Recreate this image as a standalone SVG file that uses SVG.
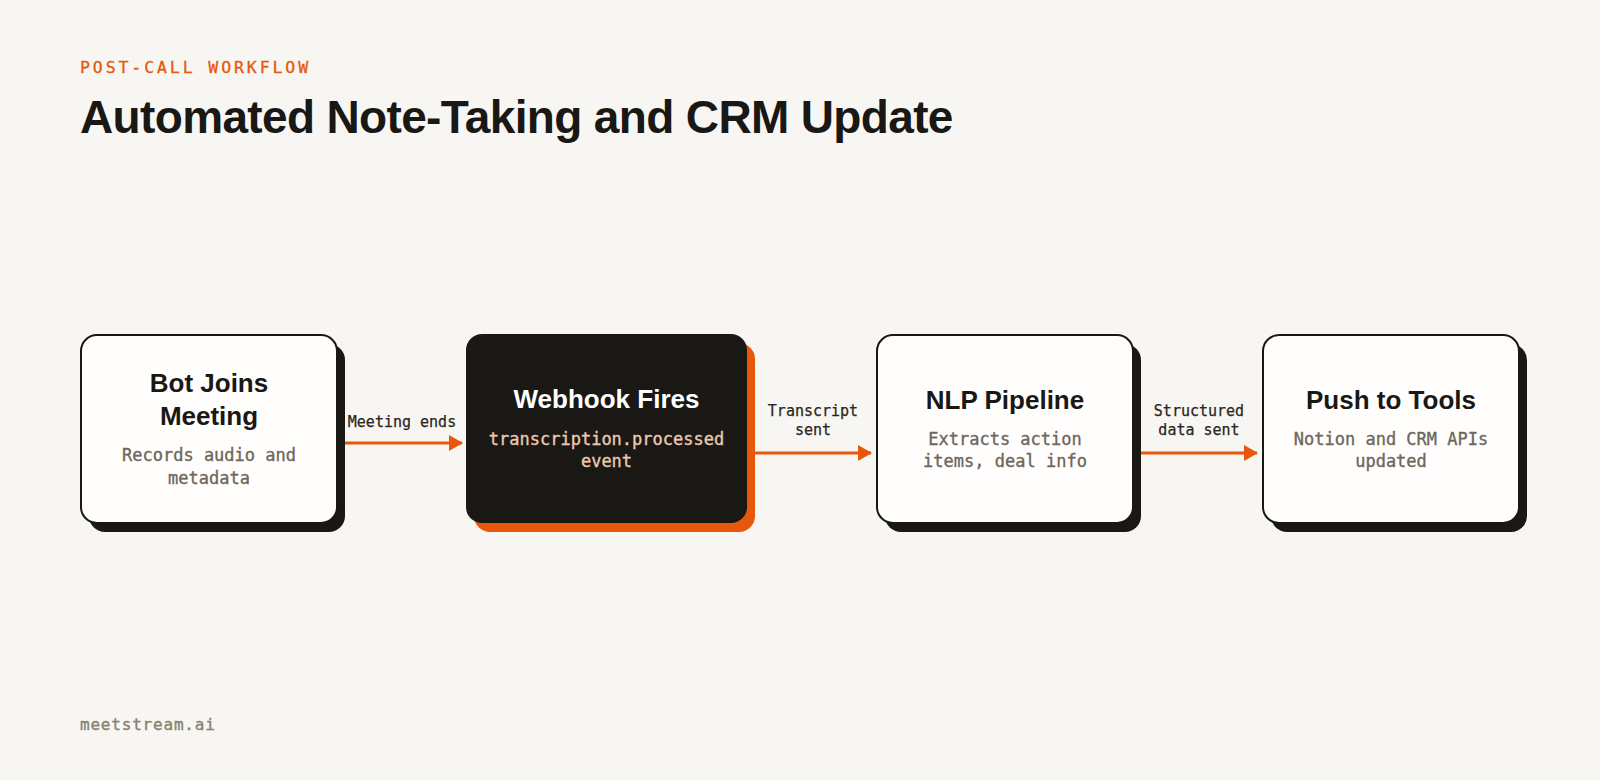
<svg xmlns="http://www.w3.org/2000/svg" width="1600" height="780" viewBox="0 0 1600 780">
<defs>
<style>
.bg{fill:#f7f6f3}
.eyebrow{font-family:"DejaVu Sans Mono","Liberation Mono",monospace;font-size:16.5px;letter-spacing:2.9px;fill:#e8580c;stroke:#e8580c;stroke-width:0.3px}
.h1{font-family:"Liberation Sans",Arial,sans-serif;font-weight:700;font-size:46px;letter-spacing:-0.65px;fill:#1a1814}
.title{font-family:"Liberation Sans",Arial,sans-serif;font-weight:700;font-size:26px;text-anchor:middle;fill:#1a1814}
.title.inv{fill:#ffffff}
.sub{font-family:"DejaVu Sans Mono","Liberation Mono",monospace;font-size:17px;text-anchor:middle;fill:#6e665c;stroke:#6e665c;stroke-width:0.35px}
.sub.inv{fill:#ecc9ae;stroke:#ecc9ae}
.lbl{font-family:"DejaVu Sans Mono","Liberation Mono",monospace;font-size:15px;text-anchor:middle;fill:#2a2620;stroke:#2a2620;stroke-width:0.25px}
.foot{font-family:"DejaVu Sans Mono","Liberation Mono",monospace;font-size:16px;letter-spacing:0.8px;fill:#8a7f72;stroke:#8a7f72;stroke-width:0.35px}
.box{fill:#fffefc;stroke:#1a1814;stroke-width:2}
.shadow{fill:#1a1814}
.dark{fill:#1a1814}
.oshadow{fill:#e8580c}
.edge{stroke:#e8580c;stroke-width:3;fill:none}
</style>
<marker id="arr" viewBox="0 0 14 16" refX="13" refY="8" markerWidth="14" markerHeight="16" markerUnits="userSpaceOnUse" orient="auto">
<path d="M0,0 L14,8 L0,16 Z" fill="#e8580c"/>
</marker>
</defs>
<rect class="bg" x="0" y="0" width="1600" height="780"/>
<text class="eyebrow" x="80" y="73">POST-CALL WORKFLOW</text>
<text class="h1" x="80" y="133">Automated Note-Taking and CRM Update</text>

<g id="connectors">
<line class="edge" x1="344" y1="443" x2="462" y2="443" marker-end="url(#arr)"/>
<text class="lbl" x="402" y="427">Meeting ends</text>
<line class="edge" x1="755" y1="453" x2="871" y2="453" marker-end="url(#arr)"/>
<text class="lbl" x="813" y="416">Transcript</text>
<text class="lbl" x="813" y="435">sent</text>
<line class="edge" x1="1141" y1="453" x2="1257" y2="453" marker-end="url(#arr)"/>
<text class="lbl" x="1199" y="416">Structured</text>
<text class="lbl" x="1199" y="435">data sent</text>
</g>

<g id="node-bot">
<rect class="shadow" x="89" y="344" width="256" height="188" rx="16"/>
<rect class="box" x="81" y="335" width="256" height="188" rx="16"/>
<text class="title" x="209" y="392">Bot Joins</text>
<text class="title" x="209" y="425">Meeting</text>
<text class="sub" x="209" y="461">Records audio and</text>
<text class="sub" x="209" y="484">metadata</text>
</g>

<g id="node-webhook">
<rect class="oshadow" x="474" y="343" width="281" height="189" rx="16"/>
<rect class="dark" x="466" y="334" width="281" height="189" rx="16"/>
<text class="title inv" x="606.5" y="408">Webhook Fires</text>
<text class="sub inv" x="606.5" y="445">transcription.processed</text>
<text class="sub inv" x="606.5" y="467">event</text>
</g>

<g id="node-nlp">
<rect class="shadow" x="885" y="344" width="256" height="188" rx="16"/>
<rect class="box" x="877" y="335" width="256" height="188" rx="16"/>
<text class="title" x="1005" y="409">NLP Pipeline</text>
<text class="sub" x="1005" y="445">Extracts action</text>
<text class="sub" x="1005" y="467">items, deal info</text>
</g>

<g id="node-push">
<rect class="shadow" x="1271" y="344" width="256" height="188" rx="16"/>
<rect class="box" x="1263" y="335" width="256" height="188" rx="16"/>
<text class="title" x="1391" y="409">Push to Tools</text>
<text class="sub" x="1391" y="445">Notion and CRM APIs</text>
<text class="sub" x="1391" y="467">updated</text>
</g>

<text class="foot" x="80" y="730">meetstream.ai</text>
</svg>
